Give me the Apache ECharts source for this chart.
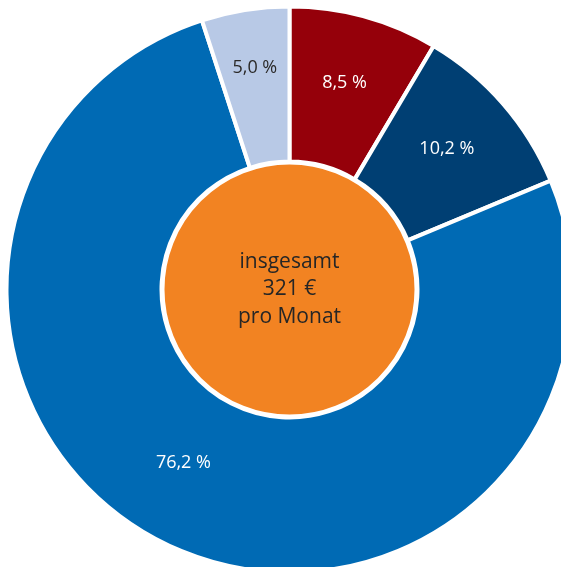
<!DOCTYPE html>
<html>
<head>
<meta charset="utf-8">
<script src="https://cdn.jsdelivr.net/npm/echarts@6/dist/echarts.min.js"></script>
<style>
html,body{margin:0;padding:0;background:#fff;}
#chart{width:561px;height:567px;}
</style>
</head>
<body>
<div id="chart"></div>
<script>
// Shares in percent, clockwise from 12 o'clock
const categories = ['Anteil A', 'Anteil B', 'Anteil C', 'Anteil D'];
const values = [8.5, 10.2, 76.2, 5.0];
const sliceColors = ['#95000a', '#003f73', '#006ab4', '#b8c9e6'];
const labelColors = ['#ffffff', '#ffffff', '#ffffff', '#2b2a29'];
const centerLines = ['insgesamt', '321 €', 'pro Monat'];

// label nudges (px) to follow the original placement
const labelNudge = [[0, -6], [0, -4], [-19, -16], [-2, -16]];

const FONT = '"Open Sans", "Noto Sans", sans-serif';
const chart = echarts.init(document.getElementById('chart'), null, {renderer: 'canvas'});
const fmt = v => v.toFixed(1).replace('.', ',') + ' %';

chart.setOption({
  animation: false,
  series: [
    {
      type: 'pie',
      center: [289.5, 289.5],
      radius: [128, 283],
      startAngle: 90,
      clockwise: true,
      avoidLabelOverlap: false,
      silent: true,
      itemStyle: {borderColor: '#ffffff', borderWidth: 4},
      label: {
        show: true,
        position: 'inside',
        fontFamily: FONT,
        fontSize: 18,
        formatter: p => fmt(p.value)
      },
      labelLine: {show: false},
      labelLayout: p => ({dx: labelNudge[p.dataIndex][0], dy: labelNudge[p.dataIndex][1]}),
      data: values.map((v, i) => ({
        name: categories[i],
        value: v,
        itemStyle: {color: sliceColors[i]},
        label: {color: labelColors[i]}
      }))
    },
    {
      type: 'pie',
      center: [289.5, 289.5],
      radius: [0, 126],
      silent: true,
      itemStyle: {color: '#f28322', borderColor: '#ffffff', borderWidth: 2},
      label: {
        show: true,
        position: 'center',
        fontFamily: FONT,
        fontSize: 21,
        lineHeight: 27.5,
        color: '#262626',
        formatter: () => centerLines.join('\n')
      },
      labelLine: {show: false},
      data: [{name: 'insgesamt', value: 321}]
    }
  ]
});
</script>
</body>
</html>
